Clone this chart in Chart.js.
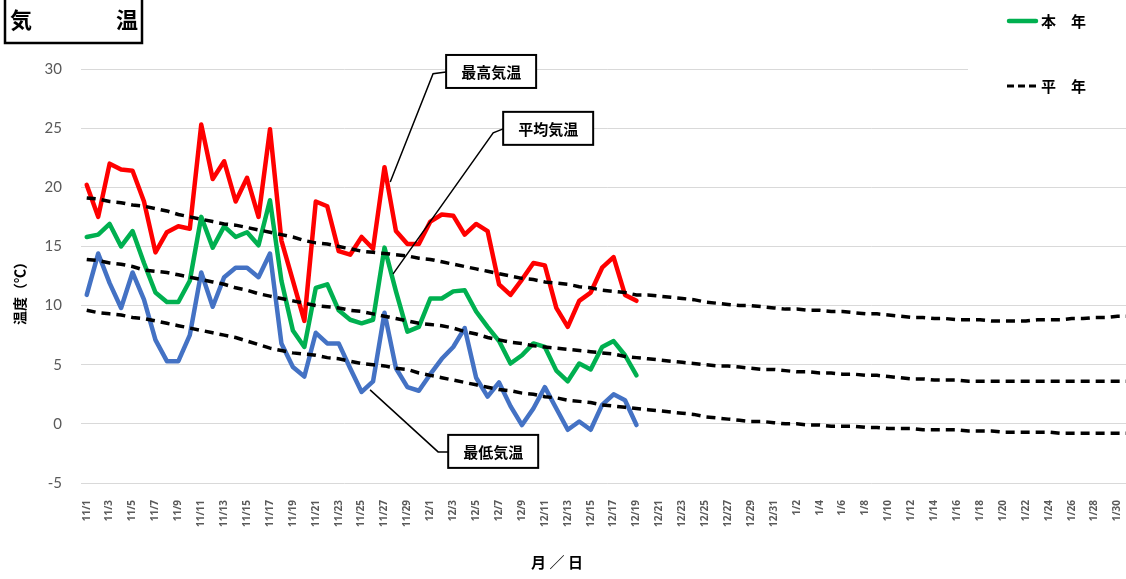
<!DOCTYPE html>
<html lang="ja">
<head>
<meta charset="utf-8">
<script src="https://cdn.jsdelivr.net/npm/chart.js@4.4.1/dist/chart.umd.min.js"></script>
<style>
html, body { margin: 0; padding: 0; background: #fff; overflow: hidden; }
#wrap { width: 1150px; height: 579px; }
</style>
</head>
<body>
<div id="wrap"><canvas id="kion" width="1150" height="579"></canvas></div>
<script>
// 日付 (11/1 ～ 1/31)
const hiduke = [
  '11/1','11/2','11/3','11/4','11/5','11/6','11/7','11/8','11/9','11/10',
  '11/11','11/12','11/13','11/14','11/15','11/16','11/17','11/18','11/19','11/20',
  '11/21','11/22','11/23','11/24','11/25','11/26','11/27','11/28','11/29','11/30',
  '12/1','12/2','12/3','12/4','12/5','12/6','12/7','12/8','12/9','12/10',
  '12/11','12/12','12/13','12/14','12/15','12/16','12/17','12/18','12/19','12/20',
  '12/21','12/22','12/23','12/24','12/25','12/26','12/27','12/28','12/29','12/30','12/31',
  '1/1','1/2','1/3','1/4','1/5','1/6','1/7','1/8','1/9','1/10',
  '1/11','1/12','1/13','1/14','1/15','1/16','1/17','1/18','1/19','1/20',
  '1/21','1/22','1/23','1/24','1/25','1/26','1/27','1/28','1/29','1/30','1/31'
];

// 本年
const saikou = [20.2, 17.5, 22.0, 21.5, 21.4, 18.8, 14.5, 16.2, 16.7, 16.5,
  25.3, 20.7, 22.2, 18.8, 20.8, 17.5, 24.9, 15.5, 12.1, 8.7,
  18.8, 18.4, 14.6, 14.3, 15.8, 14.8, 21.7, 16.3, 15.2, 15.2,
  17.1, 17.7, 17.6, 16.0, 16.9, 16.3, 11.8, 10.9, 12.2, 13.6,
  13.4, 9.8, 8.2, 10.4, 11.1, 13.2, 14.1, 10.9, 10.4];
const heikin = [15.8, 16.0, 16.9, 15.0, 16.3, 13.6, 11.1, 10.3, 10.3, 12.1,
  17.5, 14.9, 16.7, 15.8, 16.2, 15.1, 18.9, 12.1, 7.9, 6.5,
  11.5, 11.8, 9.6, 8.8, 8.5, 8.8, 14.9, 11.2, 7.8, 8.2,
  10.6, 10.6, 11.2, 11.3, 9.5, 8.2, 7.0, 5.1, 5.8, 6.8,
  6.5, 4.5, 3.6, 5.1, 4.6, 6.5, 7.0, 5.8, 4.1];
const saitei = [10.9, 14.4, 11.9, 9.8, 12.8, 10.5, 7.1, 5.3, 5.3, 7.5,
  12.8, 9.9, 12.4, 13.2, 13.2, 12.4, 14.4, 6.8, 4.8, 4.0,
  7.7, 6.8, 6.8, 4.7, 2.7, 3.6, 9.4, 4.7, 3.1, 2.8,
  4.2, 5.5, 6.5, 8.1, 3.9, 2.3, 3.5, 1.5, -0.1, 1.3,
  3.1, 1.3, -0.5, 0.2, -0.5, 1.6, 2.5, 2.0, -0.1];

// 平年
const heinenMax = [19.1, 19.0, 18.8, 18.7, 18.5, 18.4, 18.2, 18.0, 17.7, 17.5,
  17.3, 17.1, 16.9, 16.8, 16.6, 16.4, 16.2, 16.0, 15.8, 15.5,
  15.3, 15.2, 15.0, 14.8, 14.6, 14.5, 14.4, 14.3, 14.2, 14.0,
  13.9, 13.7, 13.5, 13.3, 13.1, 12.9, 12.7, 12.5, 12.3, 12.2,
  12.0, 11.9, 11.8, 11.6, 11.5, 11.3, 11.2, 11.1, 10.9, 10.9,
  10.8, 10.7, 10.6, 10.5, 10.3, 10.2, 10.1, 10.0, 10.0, 9.9, 9.8,
  9.7, 9.7, 9.6, 9.6, 9.5, 9.5, 9.4, 9.3, 9.3, 9.2,
  9.1, 9.0, 9.0, 8.9, 8.9, 8.8, 8.8, 8.8, 8.7, 8.7,
  8.7, 8.7, 8.8, 8.8, 8.8, 8.9, 8.9, 9.0, 9.0, 9.1, 9.1];
const heinenAvg = [13.9, 13.8, 13.6, 13.5, 13.3, 13.0, 12.9, 12.8, 12.6, 12.4,
  12.2, 12.0, 11.8, 11.5, 11.3, 11.0, 10.8, 10.6, 10.4, 10.2,
  10.0, 9.9, 9.8, 9.6, 9.5, 9.3, 9.1, 8.9, 8.7, 8.5,
  8.4, 8.3, 8.1, 7.8, 7.6, 7.3, 7.1, 6.9, 6.8, 6.6,
  6.5, 6.4, 6.3, 6.2, 6.1, 6.0, 5.9, 5.7, 5.6, 5.5,
  5.4, 5.3, 5.2, 5.1, 5.0, 4.9, 4.9, 4.8, 4.7, 4.6, 4.6,
  4.5, 4.4, 4.4, 4.3, 4.3, 4.2, 4.2, 4.1, 4.1, 4.0,
  3.9, 3.8, 3.8, 3.7, 3.7, 3.7, 3.6, 3.6, 3.6, 3.6,
  3.6, 3.6, 3.6, 3.6, 3.6, 3.6, 3.6, 3.6, 3.6, 3.6, 3.6];
const heinenMin = [9.6, 9.4, 9.3, 9.2, 9.0, 8.9, 8.7, 8.5, 8.3, 8.1,
  7.9, 7.7, 7.5, 7.3, 7.0, 6.7, 6.4, 6.2, 6.0, 5.9,
  5.8, 5.6, 5.5, 5.3, 5.1, 5.0, 4.9, 4.7, 4.6, 4.3,
  4.1, 3.9, 3.7, 3.5, 3.3, 3.1, 2.9, 2.8, 2.6, 2.5,
  2.3, 2.2, 2.0, 1.9, 1.8, 1.6, 1.5, 1.4, 1.3, 1.2,
  1.1, 1.0, 0.9, 0.8, 0.6, 0.5, 0.4, 0.3, 0.2, 0.2, 0.1,
  0.0, 0.0, -0.1, -0.1, -0.2, -0.2, -0.2, -0.3, -0.3, -0.4,
  -0.4, -0.4, -0.5, -0.5, -0.5, -0.5, -0.6, -0.6, -0.6, -0.7,
  -0.7, -0.7, -0.7, -0.7, -0.8, -0.8, -0.8, -0.8, -0.8, -0.8, -0.8];

// 吹き出し (線の折れ点は [日付index, 気温])
const fukidashi = [
  { text: '最高気温', path: [[26.5, 20.45], [30.24, 29.6], [31.38, 29.75]] },
  { text: '平均気温', path: [[26.75, 12.68], [35.49, 24.6], [36.36, 24.94]] },
  { text: '最低気温', path: [[24.74, 2.87], [30.68, -2.37], [31.56, -2.37]] }
];

const JP = '"Noto Sans CJK JP", "Noto Sans", sans-serif';

const decor = {
  id: 'decor',
  beforeDatasetsDraw(chart) {
    // 凡例の裏は白抜き
    const c = chart.ctx;
    c.save();
    c.fillStyle = '#fff';
    c.fillRect(968, 60, 200, 16);
    c.restore();
  },
  afterDraw(chart) {
    const c = chart.ctx;
    const xs = chart.scales.x, ys = chart.scales.y;
    c.save();

    // タイトル枠
    c.strokeStyle = '#000';
    c.lineWidth = 2.5;
    c.strokeRect(5, -3, 137, 46);
    c.fillStyle = '#000';
    c.font = 'bold 22px ' + JP;
    c.textBaseline = 'middle';
    c.textAlign = 'left';
    c.fillText('気', 10, 20);
    c.textAlign = 'right';
    c.fillText('温', 138, 20);

    // 凡例
    c.lineCap = 'round';
    c.lineWidth = 4.5;
    c.strokeStyle = '#00B050';
    c.beginPath(); c.moveTo(1009, 21); c.lineTo(1036, 21); c.stroke();
    c.lineCap = 'butt';
    c.lineWidth = 3;
    c.strokeStyle = '#000';
    c.setLineDash([7, 4]);
    c.beginPath(); c.moveTo(1007, 86); c.lineTo(1037, 86); c.stroke();
    c.setLineDash([]);
    c.font = 'bold 15px ' + JP;
    c.textAlign = 'left';
    c.fillText('本　年', 1041, 21);
    c.fillText('平　年', 1041, 86);

    // 吹き出し
    fukidashi.forEach(f => {
      const pts = f.path.map(p => [xs.getPixelForValue(p[0]), ys.getPixelForValue(p[1])]);
      c.lineWidth = 1.5;
      c.strokeStyle = '#000';
      c.beginPath();
      pts.forEach((p, i) => i ? c.lineTo(p[0], p[1]) : c.moveTo(p[0], p[1]));
      c.stroke();
      const end = pts[pts.length - 1];
      c.fillStyle = '#fff';
      c.fillRect(end[0], end[1] - 17, 90, 33);
      c.lineWidth = 2;
      c.strokeRect(end[0], end[1] - 17, 90, 33);
      c.fillStyle = '#000';
      c.font = 'bold 15px ' + JP;
      c.textAlign = 'center';
      c.fillText(f.text, end[0] + 45, end[1]);
    });

    // 軸タイトル
    c.font = 'bold 15px ' + JP;
    c.textAlign = 'center';
    c.fillText('月 ／ 日', 557, 562);
    c.translate(20, 290);
    c.rotate(-Math.PI / 2);
    c.font = 'bold 14px ' + JP;
    c.fillText('温度（℃）', 0, 0);
    c.restore();
  }
};

const jissen = (label, data, color) => ({
  label: label, data: data, borderColor: color, backgroundColor: color,
  borderWidth: 4.5, borderCapStyle: 'round', borderJoinStyle: 'round', order: 2
});
const tensen = (label, data) => ({
  label: label, data: data, borderColor: '#000', backgroundColor: '#000',
  borderWidth: 3.5, borderDash: [9, 6], borderCapStyle: 'butt', order: 1
});

new Chart(document.getElementById('kion'), {
  type: 'line',
  data: {
    labels: hiduke,
    datasets: [
      jissen('最高気温', saikou, '#FF0000'),
      jissen('平均気温', heikin, '#00B050'),
      jissen('最低気温', saitei, '#4472C4'),
      tensen('平年 最高', heinenMax),
      tensen('平年 平均', heinenAvg),
      tensen('平年 最低', heinenMin)
    ]
  },
  options: {
    responsive: false,
    animation: false,
    devicePixelRatio: 1,
    layout: { padding: { top: 69, right: 6, left: 0, bottom: 0 } },
    elements: { point: { radius: 0 }, line: { tension: 0, fill: false } },
    plugins: { legend: { display: false }, tooltip: { enabled: false } },
    scales: {
      x: {
        offset: true,
        grid: { display: false },
        border: { display: false },
        ticks: {
          autoSkip: false, minRotation: 90, maxRotation: 90, padding: 9,
          color: '#595959', font: { family: '"Noto Sans"', size: 10, weight: 'bold' },
          callback: function (v, i) { return i % 2 === 0 ? this.getLabelForValue(v) : ''; }
        },
        afterFit: s => { s.height = 96; }
      },
      y: {
        min: -5, max: 30,
        ticks: { stepSize: 5, padding: 19, color: '#595959', font: { family: 'Lato', size: 15 } },
        grid: { color: '#d9d9d9', drawTicks: false },
        border: { display: false },
        afterFit: s => { s.width = 81; }
      }
    }
  },
  plugins: [decor]
});
</script>
</body>
</html>
